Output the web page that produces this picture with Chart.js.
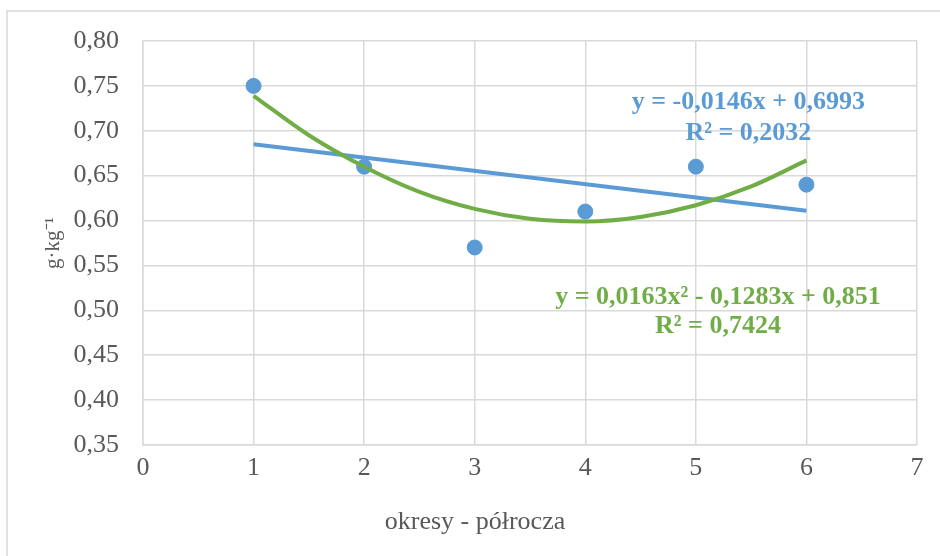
<!DOCTYPE html>
<html>
<head>
<meta charset="utf-8">
<script src="https://cdn.jsdelivr.net/npm/chart.js@4/dist/chart.umd.min.js"></script>
<style>
  html, body { margin: 0; padding: 0; background: #fff; }
  #wrap { width: 940px; height: 556px; }
</style>
</head>
<body>
<div id="wrap"><canvas id="chart" width="940" height="556"></canvas></div>
<script>
// measured data (periods = half-years)
const periods = [1, 2, 3, 4, 5, 6];
const values = [0.75, 0.66, 0.57, 0.61, 0.66, 0.64];

// trend lines
const linX = [1, 6];
const linY = [0.685, 0.611];
const polyX = [1, 1.5, 2, 2.5, 3, 3.5, 4, 4.5, 5, 5.5, 6];
const polyY = [0.739, 0.695, 0.660, 0.632, 0.613, 0.602, 0.599, 0.604, 0.617, 0.638, 0.667];

const linLabel = ['y = -0,0146x + 0,6993', 'R² = 0,2032'];
const polyLabel = ['y = 0,0163x² - 0,1283x + 0,851', 'R² = 0,7424'];
const xTitle = 'okresy - półrocza';

const BLUE = '#5B9BD5';
const GREEN = '#70AD47';
const GRID = '#d9d9d9';
const TXT = '#595959';
const SERIF = '"Liberation Serif", "Times New Roman", serif';

const toPts = (xs, ys) => xs.map((x, i) => ({ x: x, y: ys[i] }));

// outer frame, x title (centred on the whole chart, like Excel) and trendline equations
const extras = {
  id: 'extras',
  beforeDraw(chart) {
    const c = chart.ctx;
    c.save();
    c.fillStyle = '#fff';
    c.fillRect(0, 0, chart.width, chart.height);
    c.strokeStyle = GRID;
    c.lineWidth = 1.5;
    c.strokeRect(7, 11, 1000, 1000);
    c.restore();
  },
  afterDraw(chart) {
    const c = chart.ctx;
    c.save();
    c.font = '26px ' + SERIF;
    c.fillStyle = TXT;
    c.textAlign = 'center';
    c.textBaseline = 'middle';
    c.fillText(xTitle, chart.width / 2 + 5, 522);
    c.restore();
  },
  afterDatasetsDraw(chart) {
    const c = chart.ctx;
    const xs = chart.scales.x, ys = chart.scales.y;
    c.save();
    c.font = 'bold 26px ' + SERIF;
    c.textAlign = 'center';
    c.textBaseline = 'middle';
    c.fillStyle = BLUE;
    c.fillText(linLabel[0], xs.getPixelForValue(5.475), ys.getPixelForValue(0.732));
    c.fillText(linLabel[1], xs.getPixelForValue(5.475), ys.getPixelForValue(0.6975));
    c.fillStyle = GREEN;
    c.fillText(polyLabel[0], xs.getPixelForValue(5.2), ys.getPixelForValue(0.515));
    c.fillText(polyLabel[1], xs.getPixelForValue(5.2), ys.getPixelForValue(0.4825));
    c.restore();
  }
};

new Chart(document.getElementById('chart'), {
  type: 'scatter',
  data: {
    datasets: [
      {
        label: 'dane',
        data: toPts(periods, values),
        backgroundColor: BLUE,
        borderColor: BLUE,
        pointRadius: 7.5,
        pointHoverRadius: 7.5,
        order: 3
      },
      {
        label: 'liniowy',
        data: toPts(linX, linY),
        showLine: true,
        borderColor: BLUE,
        borderWidth: 4,
        pointRadius: 0,
        order: 2
      },
      {
        label: 'wielomianowy',
        data: toPts(polyX, polyY),
        showLine: true,
        borderColor: GREEN,
        borderWidth: 4,
        pointRadius: 0,
        cubicInterpolationMode: 'monotone',
        order: 1
      }
    ]
  },
  options: {
    responsive: false,
    animation: false,
    layout: { padding: { left: 0, top: 41, right: 23, bottom: 0 } },
    plugins: {
      legend: { display: false },
      tooltip: { enabled: false }
    },
    scales: {
      x: {
        type: 'linear',
        min: 0,
        max: 7,
        afterFit: (s) => { s.height = 111; },
        ticks: {
          stepSize: 1,
          padding: 8,
          color: TXT,
          font: { family: SERIF, size: 26 }
        },
        grid: { color: GRID, lineWidth: 1.5, drawTicks: false },
        border: { color: GRID, width: 1.5 }
      },
      y: {
        min: 0.35,
        max: 0.80,
        afterFit: (s) => { s.width = 143; },
        ticks: {
          stepSize: 0.05,
          padding: 24,
          color: TXT,
          font: { family: SERIF, size: 26 },
          callback: (v) => v.toFixed(2).replace('.', ',')
        },
        grid: { color: GRID, lineWidth: 1.5, drawTicks: false },
        border: { color: GRID, width: 1.5 },
        title: {
          display: true,
          text: 'g·kg⁻¹',
          color: TXT,
          font: { family: SERIF, size: 21 },
          padding: { top: 41, bottom: 0 }
        }
      }
    }
  },
  plugins: [extras]
});
</script>
</body>
</html>
